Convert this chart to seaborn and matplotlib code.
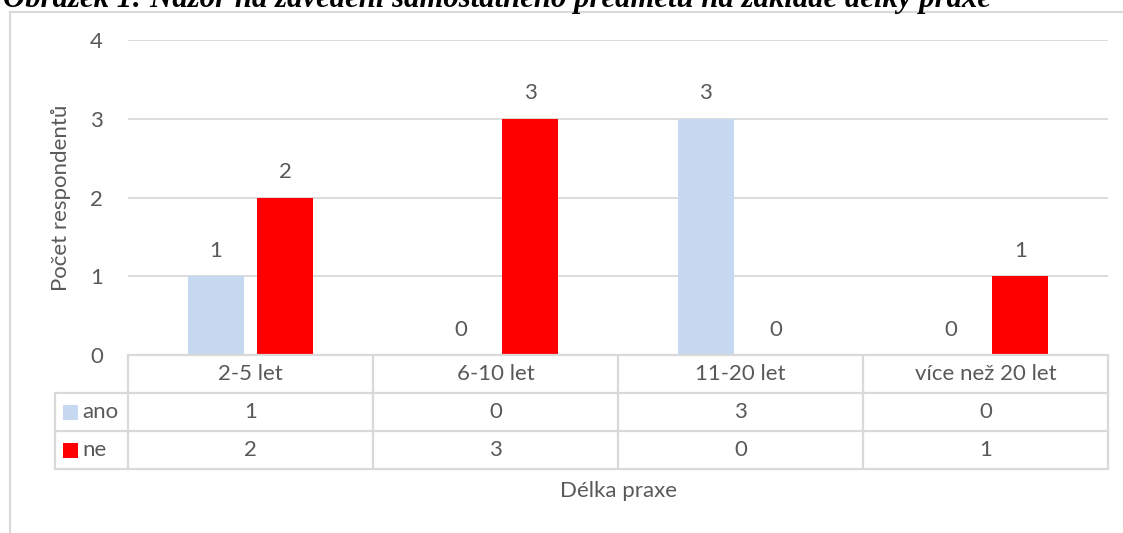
import numpy as np
import pandas as pd
import seaborn as sns
import matplotlib
matplotlib.use("Agg")
import matplotlib.pyplot as plt
import matplotlib.transforms as mtrans
from matplotlib.patches import Rectangle
from matplotlib.lines import Line2D

# ---- data ----
categories = ["2-5 let", "6-10 let", "11-20 let", "více než 20 let"]
series = ["ano", "ne"]
ano = [1, 0, 3, 0]
ne = [2, 3, 0, 1]
y_ticks = [0, 1, 2, 3, 4]
title = "Obrázek 1: Názor na zavedení samostatného předmětu na základě délky praxe"
xlabel = "Délka praxe"
ylabel = "Počet respondentů"

colors = {"ano": "#C6D9F1", "ne": "#FF0000"}
TXT = "#595959"
GRID = "#D9D9D9"
FS = 16

df = pd.DataFrame({
    "kategorie": categories * 2,
    "serie": ["ano"] * len(categories) + ["ne"] * len(categories),
    "hodnota": ano + ne,
})
values = {"ano": ano, "ne": ne}

sns.set_theme(style="white")
plt.rcParams['font.family'] = ['Lato', 'DejaVu Sans']

W, H = 1123, 533
fig = plt.figure(figsize=(W / 100, H / 100), dpi=100)
fig.patch.set_facecolor("white")


def fx(px):
    return px / W


def fy(py):
    return 1 - py / H


L, R, T, B = 128, 1108, 40, 355
ax = fig.add_axes([fx(L), fy(B), fx(R) - fx(L), fy(T) - fy(B)])
sns.barplot(data=df, x="kategorie", y="hodnota", hue="serie", order=categories,
            hue_order=series, palette=colors, width=0.571, gap=0.2,
            saturation=1, linewidth=0, ax=ax, legend=False, errorbar=None)

ax.set_xlim(-0.5, len(categories) - 0.5)
ax.set_ylim(0, 4)
ax.set_yticks(y_ticks)
ax.set_yticklabels([str(t) for t in y_ticks])
ax.set_xticks([])
ax.yaxis.grid(True, color=GRID, lw=1.3)
ax.set_axisbelow(True)
for s in ax.spines.values():
    s.set_visible(False)
ax.tick_params(axis="y", length=0, pad=18, labelsize=FS, labelcolor=TXT)

for cont in ax.containers:
    ax.bar_label(cont, fmt="%g", padding=11, fontsize=FS, color=TXT)

# axis labels
ax.set_xlabel(xlabel, fontsize=FS, color=TXT)
ax.xaxis.set_label_coords(0.5, (B - 491) / (B - T))
ax.xaxis.label.set_va("center")
ax.set_ylabel(ylabel, fontsize=FS, color=TXT)
ax.yaxis.set_label_coords((61 - L) / (R - L), 0.5)
ax.yaxis.label.set_va("center")

# ---- data table ----
axw = R - L
axh = B - T
row_px = 38
rh = row_px / axh
blend = mtrans.blended_transform_factory(ax.transData, ax.transAxes)
lw_t = 1.6
leg_left = (55 - L) / axw

# horizontal lines
ax.add_line(Line2D([-0.5, len(categories) - 0.5], [0, 0], transform=blend,
                   color=GRID, lw=lw_t, clip_on=False))
for k in (1, 2, 3):
    ax.add_line(Line2D([leg_left, 1], [-k * rh, -k * rh], transform=ax.transAxes,
                       color=GRID, lw=lw_t, clip_on=False))
# vertical lines
for b in np.arange(-0.5, len(categories), 1.0):
    ax.add_line(Line2D([b, b], [0, -3 * rh], transform=blend,
                       color=GRID, lw=lw_t, clip_on=False))
ax.add_line(Line2D([leg_left, leg_left], [-rh, -3 * rh], transform=ax.transAxes,
                   color=GRID, lw=lw_t, clip_on=False))

# header + values
for i, c in enumerate(categories):
    ax.text(i, -0.5 * rh, c, transform=blend, ha="center", va="center",
            fontsize=FS, color=TXT)
    for r, s in enumerate(series):
        ax.text(i, -(1.5 + r) * rh, f"{values[s][i]:g}", transform=blend,
                ha="center", va="center", fontsize=FS, color=TXT)

# legend keys in table
sq = 15
for r, s in enumerate(series):
    yc = -(1.5 + r) * rh
    ax.add_patch(Rectangle(((63 - L) / axw, yc - sq / 2 / axh), sq / axw, sq / axh,
                           transform=ax.transAxes, color=colors[s], clip_on=False, lw=0))
    ax.text((82 - L) / axw, yc, s, transform=ax.transAxes, ha="left", va="center",
            fontsize=FS, color=TXT)

# chart frame
fig.add_artist(Line2D([fx(10), fx(10)], [fy(12), 0], transform=fig.transFigure,
                      color=GRID, lw=1.5))
fig.add_artist(Line2D([fx(10), 1], [fy(12), fy(12)], transform=fig.transFigure,
                      color=GRID, lw=1.5))

# caption at top, clipped by the page edge as in the reference
t = fig.text(fx(3), fy(7.5), title, ha="left", va="baseline",
             family=["Liberation Serif", "DejaVu Serif"], weight="bold",
             style="italic", fontsize=22, color="black")
fig.canvas.draw()
w = t.get_window_extent().width
t.set_fontsize(22 * 987 / w)

fig.savefig("out.png", dpi=100, facecolor="white")
